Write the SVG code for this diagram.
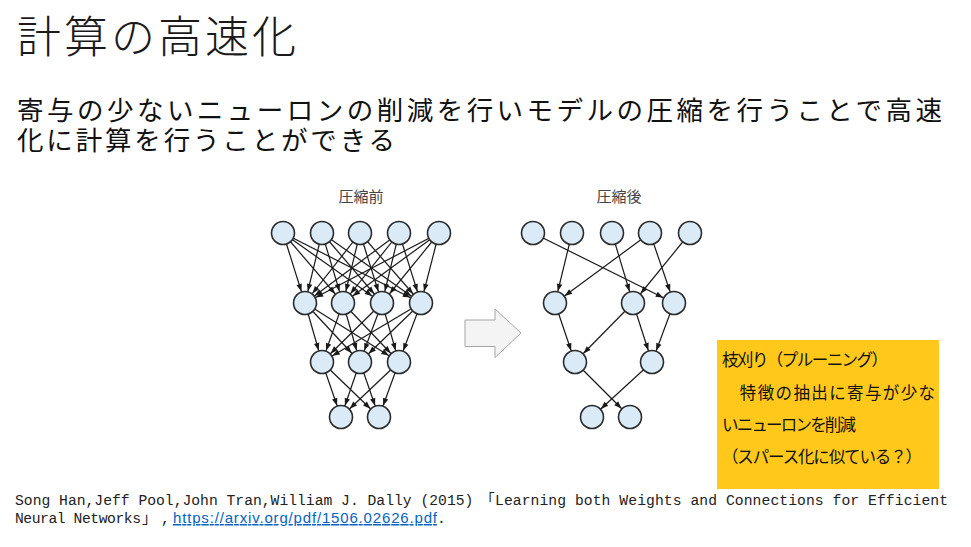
<svg xmlns="http://www.w3.org/2000/svg" width="971" height="547" viewBox="0 0 971 547">
<defs>
<style>
.jp{font-family:"Noto Sans CJK JP","Noto Sans",sans-serif;}
.title{font-size:44px;font-weight:300;fill:#1a1a1a;}
.sub{font-size:26.5px;fill:#111;}
.lbl{font-size:15px;fill:#444;text-anchor:middle;}
.note{font-size:16.5px;fill:#111;}
.cite{font-family:"Liberation Mono","Noto Sans CJK JP",monospace;font-size:14.7px;fill:#222;}
.link{font-family:"Liberation Sans","Noto Sans",sans-serif;font-size:15px;fill:#0563C1;text-decoration:underline;}
.node{fill:#DAEAF7;stroke:#2a2a2a;stroke-width:1.6;}
.edge{stroke:#1a1a1a;stroke-width:1.2;marker-end:url(#ah);}
</style>
<marker id="ah" markerUnits="userSpaceOnUse" markerWidth="22" markerHeight="6" refX="19.5" refY="2.75" orient="auto" overflow="visible">
<path d="M0,0 L7.5,2.75 L0,5.5 z" fill="#1a1a1a"/>
</marker>
</defs>
<rect width="971" height="547" fill="#ffffff"/>

<text class="jp title" x="17" y="53" textLength="279">計算の高速化</text>
<text class="jp sub"><tspan x="17" y="120" textLength="925">寄与の少ないニューロンの削減を行いモデルの圧縮を行うことで高速</tspan><tspan x="17" y="150" textLength="378">化に計算を行うことができる</tspan></text>

<text class="jp lbl" x="361" y="202">圧縮前</text>
<text class="jp lbl" x="619" y="202">圧縮後</text>

<g id="connectors">
<line class="edge" x1="283" y1="233" x2="305" y2="303"/>
<line class="edge" x1="283" y1="233" x2="343" y2="303"/>
<line class="edge" x1="283" y1="233" x2="382" y2="303"/>
<line class="edge" x1="283" y1="233" x2="421" y2="303"/>
<line class="edge" x1="322" y1="233" x2="305" y2="303"/>
<line class="edge" x1="322" y1="233" x2="343" y2="303"/>
<line class="edge" x1="322" y1="233" x2="382" y2="303"/>
<line class="edge" x1="322" y1="233" x2="421" y2="303"/>
<line class="edge" x1="360" y1="233" x2="305" y2="303"/>
<line class="edge" x1="360" y1="233" x2="343" y2="303"/>
<line class="edge" x1="360" y1="233" x2="382" y2="303"/>
<line class="edge" x1="360" y1="233" x2="421" y2="303"/>
<line class="edge" x1="399" y1="233" x2="305" y2="303"/>
<line class="edge" x1="399" y1="233" x2="343" y2="303"/>
<line class="edge" x1="399" y1="233" x2="382" y2="303"/>
<line class="edge" x1="399" y1="233" x2="421" y2="303"/>
<line class="edge" x1="439" y1="233" x2="305" y2="303"/>
<line class="edge" x1="439" y1="233" x2="343" y2="303"/>
<line class="edge" x1="439" y1="233" x2="382" y2="303"/>
<line class="edge" x1="439" y1="233" x2="421" y2="303"/>
<line class="edge" x1="305" y1="303" x2="322" y2="362"/>
<line class="edge" x1="305" y1="303" x2="360" y2="362"/>
<line class="edge" x1="305" y1="303" x2="399" y2="362"/>
<line class="edge" x1="343" y1="303" x2="322" y2="362"/>
<line class="edge" x1="343" y1="303" x2="360" y2="362"/>
<line class="edge" x1="343" y1="303" x2="399" y2="362"/>
<line class="edge" x1="382" y1="303" x2="322" y2="362"/>
<line class="edge" x1="382" y1="303" x2="360" y2="362"/>
<line class="edge" x1="382" y1="303" x2="399" y2="362"/>
<line class="edge" x1="421" y1="303" x2="322" y2="362"/>
<line class="edge" x1="421" y1="303" x2="360" y2="362"/>
<line class="edge" x1="421" y1="303" x2="399" y2="362"/>
<line class="edge" x1="322" y1="362" x2="341" y2="417"/>
<line class="edge" x1="322" y1="362" x2="379" y2="417"/>
<line class="edge" x1="360" y1="362" x2="341" y2="417"/>
<line class="edge" x1="360" y1="362" x2="379" y2="417"/>
<line class="edge" x1="399" y1="362" x2="341" y2="417"/>
<line class="edge" x1="399" y1="362" x2="379" y2="417"/>

<line class="edge" x1="533" y1="233" x2="674" y2="303"/>
<line class="edge" x1="572" y1="233" x2="555" y2="303"/>
<line class="edge" x1="612" y1="233" x2="633" y2="303"/>
<line class="edge" x1="650" y1="233" x2="555" y2="303"/>
<line class="edge" x1="650" y1="233" x2="674" y2="303"/>
<line class="edge" x1="690" y1="233" x2="633" y2="303"/>
<line class="edge" x1="555" y1="303" x2="575" y2="362"/>
<line class="edge" x1="633" y1="303" x2="575" y2="362"/>
<line class="edge" x1="633" y1="303" x2="652" y2="362"/>
<line class="edge" x1="674" y1="303" x2="652" y2="362"/>
<line class="edge" x1="575" y1="362" x2="630" y2="417"/>
<line class="edge" x1="652" y1="362" x2="592" y2="417"/>
</g>

<g id="L1a"><circle class="node" cx="283" cy="233" r="11.5"/></g>
<g id="L1b"><circle class="node" cx="322" cy="233" r="11.5"/></g>
<g id="L1c"><circle class="node" cx="360" cy="233" r="11.5"/></g>
<g id="L1d"><circle class="node" cx="399" cy="233" r="11.5"/></g>
<g id="L1e"><circle class="node" cx="439" cy="233" r="11.5"/></g>
<g id="L2a"><circle class="node" cx="305" cy="303" r="11.5"/></g>
<g id="L2b"><circle class="node" cx="343" cy="303" r="11.5"/></g>
<g id="L2c"><circle class="node" cx="382" cy="303" r="11.5"/></g>
<g id="L2d"><circle class="node" cx="421" cy="303" r="11.5"/></g>
<g id="L3a"><circle class="node" cx="322" cy="362" r="11.5"/></g>
<g id="L3b"><circle class="node" cx="360" cy="362" r="11.5"/></g>
<g id="L3c"><circle class="node" cx="399" cy="362" r="11.5"/></g>
<g id="L4a"><circle class="node" cx="341" cy="417" r="11.5"/></g>
<g id="L4b"><circle class="node" cx="379" cy="417" r="11.5"/></g>

<g id="R1a"><circle class="node" cx="533" cy="233" r="11.5"/></g>
<g id="R1b"><circle class="node" cx="572" cy="233" r="11.5"/></g>
<g id="R1c"><circle class="node" cx="612" cy="233" r="11.5"/></g>
<g id="R1d"><circle class="node" cx="650" cy="233" r="11.5"/></g>
<g id="R1e"><circle class="node" cx="690" cy="233" r="11.5"/></g>
<g id="R2a"><circle class="node" cx="555" cy="303" r="11.5"/></g>
<g id="R2b"><circle class="node" cx="633" cy="303" r="11.5"/></g>
<g id="R2c"><circle class="node" cx="674" cy="303" r="11.5"/></g>
<g id="R3a"><circle class="node" cx="575" cy="362" r="11.5"/></g>
<g id="R3b"><circle class="node" cx="652" cy="362" r="11.5"/></g>
<g id="R4a"><circle class="node" cx="592" cy="417" r="11.5"/></g>
<g id="R4b"><circle class="node" cx="630" cy="417" r="11.5"/></g>

<g id="arrow">
<polygon points="465,320 495,320 495,309 521,333 495,357.5 495,346.5 465,346.5" fill="#F4F4F4" stroke="#A5A5A5" stroke-width="1"/>
</g>

<g id="note">
<rect x="717" y="340" width="222" height="149" fill="#FFC81B"/>
<text class="jp note" x="722" y="366" textLength="166">枝刈り（プルーニング）</text>
<text class="jp note" x="722" y="399" textLength="213">　特徴の抽出に寄与が少な</text>
<text class="jp note" x="722" y="431" textLength="134">いニューロンを削減</text>
<text class="jp note" x="722" y="463" textLength="200">（スパース化に似ている？）</text>
</g>

<g id="citation">
<text class="cite" x="15" y="505">Song Han,Jeff Pool,John Tran,William J. Dally (2015) </text>
<text class="cite" x="480" y="505">「</text>
<text class="cite" x="495" y="505" textLength="453">Learning both Weights and Connections for Efficient</text>
<text class="cite" x="15" y="523" textLength="126">Neural Networks</text>
<text class="cite" x="142" y="523">」</text>
<text class="cite" x="161" y="523">,</text>
<text class="link" x="173" y="523" textLength="264">https://arxiv.org/pdf/1506.02626.pdf</text>
<text class="cite" x="437" y="523">.</text>
</g>
</svg>
